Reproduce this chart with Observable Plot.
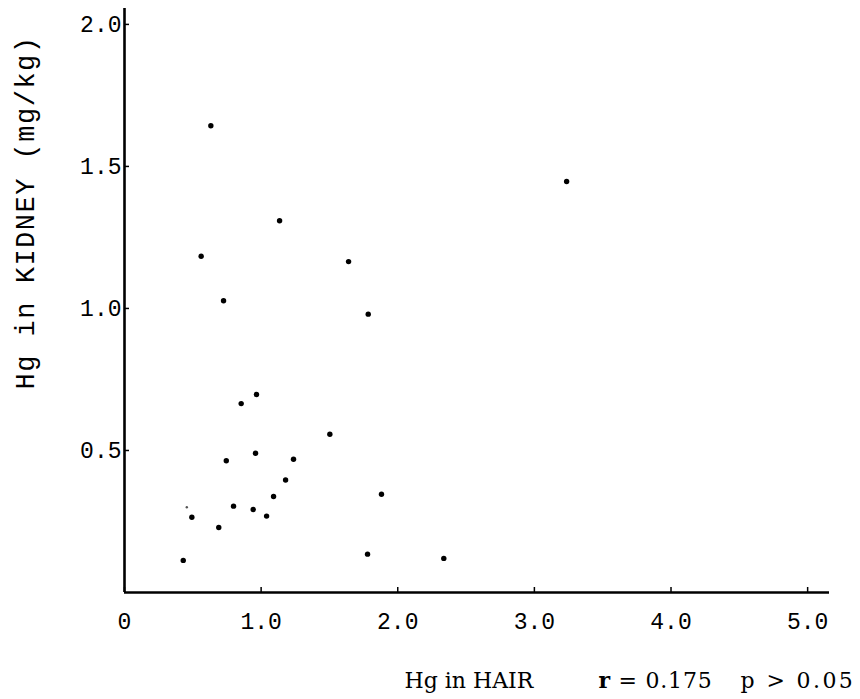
<!DOCTYPE html>
<html>
<head>
<meta charset="utf-8">
<script src="https://cdn.jsdelivr.net/npm/d3@7"></script>
<script src="https://cdn.jsdelivr.net/npm/@observablehq/plot@0.6"></script>
<style>
  html, body { margin: 0; padding: 0; background: #fff; }
  #chart { width: 860px; height: 699px; }
</style>
</head>
<body>
<div id="chart"></div>
<script>
// Hg in HAIR (x) and Hg in KIDNEY (mg/kg) (y)
const hairHg   = [0.632, 1.135, 0.561, 0.725, 3.236, 1.640, 1.784, 2.337,
                  0.966, 0.854, 1.503, 0.959, 0.745, 1.237, 1.179, 1.091,
                  1.881, 0.798, 0.942, 1.040, 0.493, 0.690, 0.430, 1.779];
const kidneyHg = [1.643, 1.309, 1.184, 1.027, 1.447, 1.165, 0.980, 0.120,
                  0.697, 0.665, 0.557, 0.490, 0.464, 0.469, 0.396, 0.338,
                  0.346, 0.304, 0.292, 0.269, 0.265, 0.229, 0.113, 0.135];
// faintly printed point
const faintHair   = [0.456];
const faintKidney = [0.300];

const xTicks      = [0, 1, 2, 3, 4, 5];
const xTickLabels = ["0", "1.0", "2.0", "3.0", "4.0", "5.0"];
const yTicks      = [0.5, 1.0, 1.5, 2.0];
const yTickLabels = ["0.5", "1.0", "1.5", "2.0"];

const xTitle = "Hg in HAIR";
const yTitle = "Hg in KIDNEY (mg/kg)";
const statR  = "r";
const statRv = "= 0.175";
const statP  = "p > 0.05";

const points = hairHg.map((h, i) => ({hair: h, kidney: kidneyHg[i]}));
const faint  = faintHair.map((h, i) => ({hair: h, kidney: faintKidney[i]}));

const chart = Plot.plot({
  width: 860,
  height: 699,
  marginLeft: 124,
  marginRight: 31,
  marginTop: 8,
  marginBottom: 107,
  style: {fontFamily: "'Liberation Mono', monospace", fontSize: "23px", background: "white", color: "black"},
  x: {domain: [0, 5.16]},
  y: {domain: [0, 2.056]},
  marks: [
    Plot.axisX(xTicks, {
      tickSize: -5, tickPadding: 25, strokeWidth: 1.5, label: null,
      tickFormat: d => xTickLabels[xTicks.indexOf(d)]
    }),
    Plot.axisY(yTicks, {
      tickSize: -5, tickPadding: 8, strokeWidth: 1.5, label: null,
      tickFormat: d => yTickLabels[yTicks.indexOf(d)]
    }),
    Plot.ruleY([0], {stroke: "black", strokeWidth: 2.6}),
    Plot.ruleX([0], {stroke: "black", strokeWidth: 2.6}),
    Plot.dot(points, {x: "hair", y: "kidney", r: 2.7, fill: "black", stroke: null}),
    Plot.dot(faint, {x: "hair", y: "kidney", r: 1.2, fill: "#555", stroke: null}),
    Plot.text([yTitle], {
      text: d => d, frameAnchor: "top-left", rotate: -90,
      textAnchor: "middle", lineAnchor: "middle",
      dx: -99, dy: 204, fontSize: 27, fill: "black",
      fontFamily: "'Liberation Mono', monospace"
    }),
    Plot.text([xTitle], {
      text: d => d, frameAnchor: "bottom-left", textAnchor: "start", lineAnchor: "middle",
      dx: 280, dy: 88, fontSize: 22, fill: "black",
      fontFamily: "'DejaVu Serif', serif"
    }),
    Plot.text([statR], {
      text: d => d, frameAnchor: "bottom-left", textAnchor: "start", lineAnchor: "middle",
      dx: 474, dy: 88, fontSize: 22, fontWeight: "bold", fill: "black",
      fontFamily: "'DejaVu Serif', serif"
    }),
    Plot.text([statRv], {
      text: d => d, frameAnchor: "bottom-left", textAnchor: "start", lineAnchor: "middle",
      dx: 494, dy: 88, fontSize: 22, fill: "black",
      fontFamily: "'DejaVu Serif', serif"
    }),
    Plot.text([statP], {
      text: d => d, frameAnchor: "bottom-left", textAnchor: "start", lineAnchor: "middle",
      dx: 616, dy: 88, fontSize: 22, fill: "black",
      fontFamily: "'DejaVu Serif', serif"
    })
  ]
});

const tx = chart.querySelectorAll("g[aria-label='text'] text");
if (tx.length === 5) {
  tx[0].style.letterSpacing = "1.5px";
  tx[3].style.letterSpacing = "0.8px";
  tx[4].style.letterSpacing = "2.4px";
}
document.getElementById("chart").appendChild(chart);
</script>
</body>
</html>
